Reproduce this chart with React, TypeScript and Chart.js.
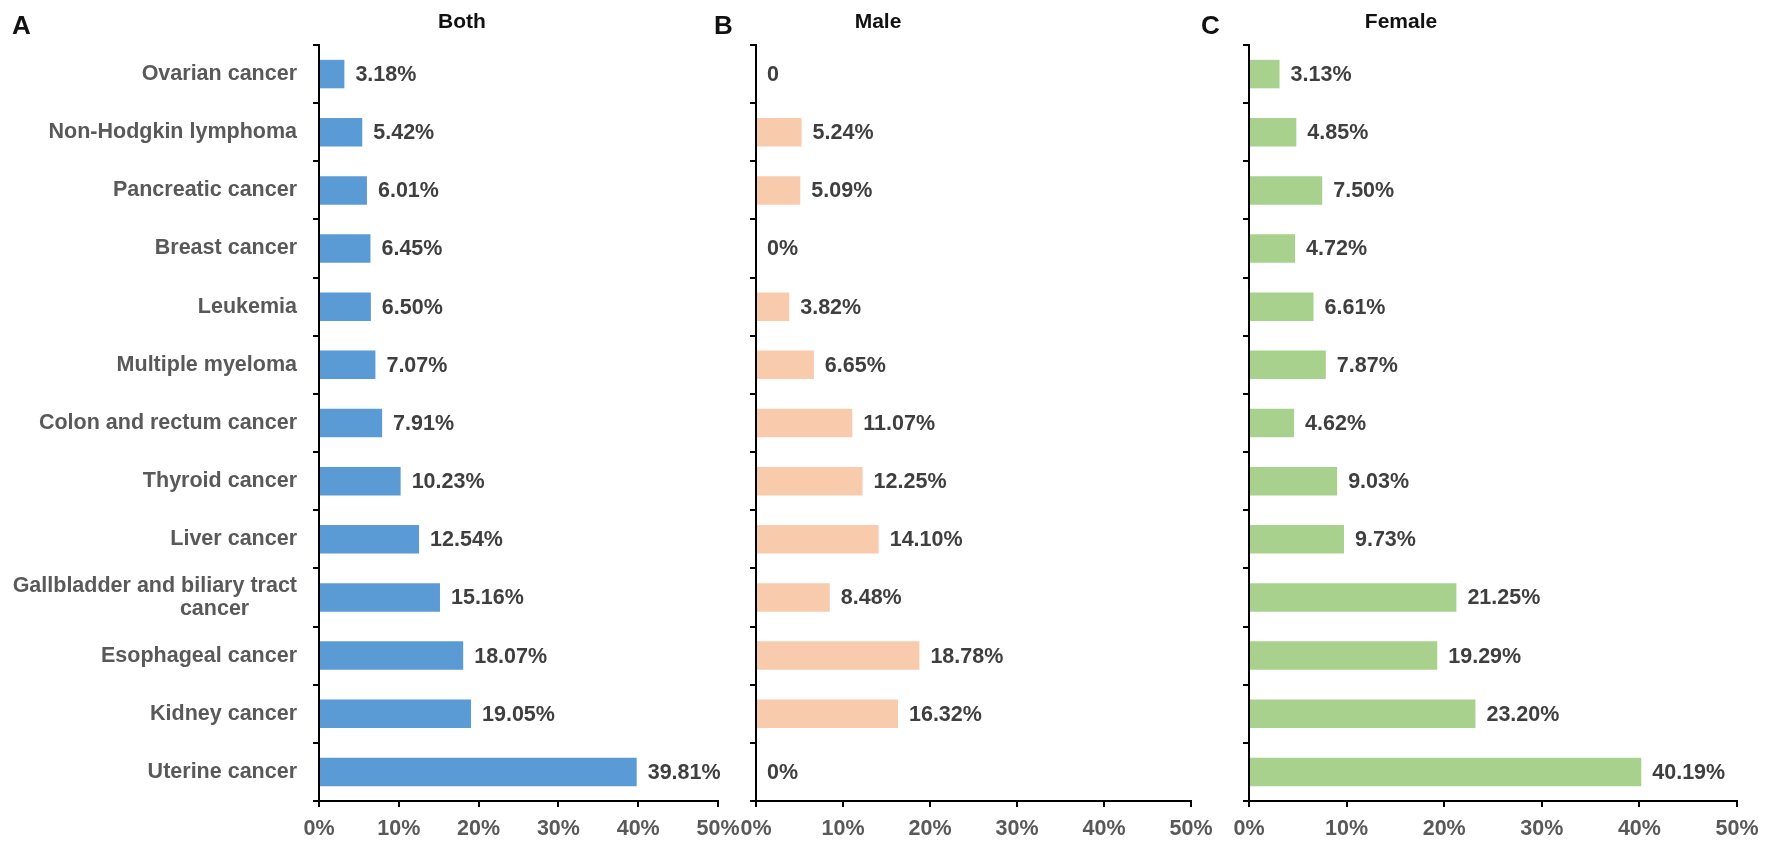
import React, { useEffect, useRef } from "react";
import { Chart, registerables } from "chart.js";
Chart.register(...registerables);

const categories: (string | string[])[] = [
  "Ovarian cancer",
  "Non-Hodgkin lymphoma",
  "Pancreatic cancer",
  "Breast cancer",
  "Leukemia",
  "Multiple myeloma",
  "Colon and rectum cancer",
  "Thyroid cancer",
  "Liver cancer",
  ["Gallbladder and biliary tract", "cancer        "],
  "Esophageal cancer",
  "Kidney cancer",
  "Uterine cancer",
];

const bothValues = [3.18, 5.42, 6.01, 6.45, 6.5, 7.07, 7.91, 10.23, 12.54, 15.16, 18.07, 19.05, 39.81];
const bothLabels = ["3.18%", "5.42%", "6.01%", "6.45%", "6.50%", "7.07%", "7.91%", "10.23%", "12.54%", "15.16%", "18.07%", "19.05%", "39.81%"];

const maleValues = [0, 5.24, 5.09, 0, 3.82, 6.65, 11.07, 12.25, 14.1, 8.48, 18.78, 16.32, 0];
const maleLabels = ["0", "5.24%", "5.09%", "0%", "3.82%", "6.65%", "11.07%", "12.25%", "14.10%", "8.48%", "18.78%", "16.32%", "0%"];

const femaleValues = [3.13, 4.85, 7.5, 4.72, 6.61, 7.87, 4.62, 9.03, 9.73, 21.25, 19.29, 23.2, 40.19];
const femaleLabels = ["3.13%", "4.85%", "7.50%", "4.72%", "6.61%", "7.87%", "4.62%", "9.03%", "9.73%", "21.25%", "19.29%", "23.20%", "40.19%"];

const xTicks = [0, 10, 20, 30, 40, 50];
const panelTitles = ["Both", "Male", "Female"];
const panelLetters = ["A", "B", "C"];

const W = 1772;
const H = 847;
const FONT = "'Liberation Sans', Arial, sans-serif";

type Panel = {
  values: number[];
  labels: string[];
  color: string;
  left: number;
  right: number;
  showCats: boolean;
  title: string;
  titleX: number;
  letter: string;
  letterX: number;
};

const panels: Panel[] = [
  { values: bothValues, labels: bothLabels, color: "#5B9BD5", left: 319, right: 718, showCats: true, title: panelTitles[0], titleX: 462, letter: panelLetters[0], letterX: 12 },
  { values: maleValues, labels: maleLabels, color: "#F8CBAD", left: 756, right: 1191, showCats: false, title: panelTitles[1], titleX: 878, letter: panelLetters[1], letterX: 714 },
  { values: femaleValues, labels: femaleLabels, color: "#A9D18E", left: 1249, right: 1737, showCats: false, title: panelTitles[2], titleX: 1401, letter: panelLetters[2], letterX: 1201 },
];

const PLOT_TOP = 45;
const PLOT_BOTTOM = 801;

function PanelChart({ p }: { p: Panel }) {
  const ref = useRef<HTMLCanvasElement | null>(null);
  useEffect(() => {
    if (!ref.current) return;
    const labelPlugin = {
      id: "valueLabels" + p.letter,
      afterDatasetsDraw(chart: any) {
        const ctx = chart.ctx;
        const meta = chart.getDatasetMeta(0);
        ctx.save();
        ctx.font = `bold 21.5px ${FONT}`;
        ctx.fillStyle = "#3f3f3f";
        ctx.textAlign = "left";
        ctx.textBaseline = "middle";
        meta.data.forEach((el: any, i: number) => {
          ctx.fillText(p.labels[i], el.x + 11, el.y + 1);
        });
        ctx.restore();
      },
      afterDraw(chart: any) {
        const ctx = chart.ctx;
        ctx.save();
        ctx.fillStyle = "#111111";
        ctx.textBaseline = "alphabetic";
        ctx.font = `bold 21px ${FONT}`;
        ctx.textAlign = "center";
        ctx.fillText(p.title, p.titleX, 28);
        ctx.font = `bold 26px ${FONT}`;
        ctx.textAlign = "left";
        ctx.fillText(p.letter, p.letterX, 34);
        ctx.restore();
      },
    };
    const chart = new Chart(ref.current, {
      type: "bar",
      data: {
        labels: categories as any,
        datasets: [
          {
            data: p.values,
            backgroundColor: p.color,
            borderWidth: 0,
            barPercentage: 0.49,
            categoryPercentage: 1,
          },
        ],
      },
      options: {
        indexAxis: "y",
        responsive: false,
        animation: false,
        devicePixelRatio: 1,
        layout: { padding: { left: 0, right: W - p.right, top: PLOT_TOP, bottom: 0 } },
        plugins: { legend: { display: false }, tooltip: { enabled: false } },
        scales: {
          y: {
            type: "category",
            offset: true,
            grid: {
              display: true,
              offset: true,
              drawOnChartArea: false,
              drawTicks: true,
              tickLength: 6,
              color: "#000000",
              lineWidth: 2,
            },
            border: { display: true, color: "#000000", width: 2 },
            ticks: {
              display: p.showCats,
              padding: 16,
              color: "#595959",
              font: { family: FONT, size: 21.5, weight: "bold", lineHeight: 1.05 },
              autoSkip: false,
            },
            afterFit(scale: any) {
              scale.width = p.left;
            },
          },
          x: {
            type: "linear",
            min: 0,
            max: 50,
            afterBuildTicks(scale: any) {
              scale.ticks = xTicks.map((v) => ({ value: v }));
            },
            grid: {
              display: true,
              drawOnChartArea: false,
              drawTicks: true,
              tickLength: 6,
              color: "#000000",
              lineWidth: 2,
            },
            border: { display: true, color: "#000000", width: 2 },
            ticks: {
              padding: 9,
              color: "#595959",
              font: { family: FONT, size: 21.5, weight: "bold" },
              maxRotation: 0,
              autoSkip: false,
              callback: (v: any) => `${v}%`,
            },
            afterFit(scale: any) {
              scale.height = H - PLOT_BOTTOM;
            },
          },
        },
      },
      plugins: [labelPlugin],
    } as any);
    return () => chart.destroy();
  }, [p]);
  return (
    <canvas
      ref={ref}
      width={W}
      height={H}
      style={{ position: "absolute", left: 0, top: 0, width: W, height: H, pointerEvents: "none" }}
    />
  );
}

export default function App() {
  return (
    <div style={{ position: "absolute", left: 0, top: 0, width: W, height: H, background: "#ffffff", overflow: "hidden" }}>
      {panels.map((p) => (
        <PanelChart key={p.letter} p={p} />
      ))}
    </div>
  );
}
